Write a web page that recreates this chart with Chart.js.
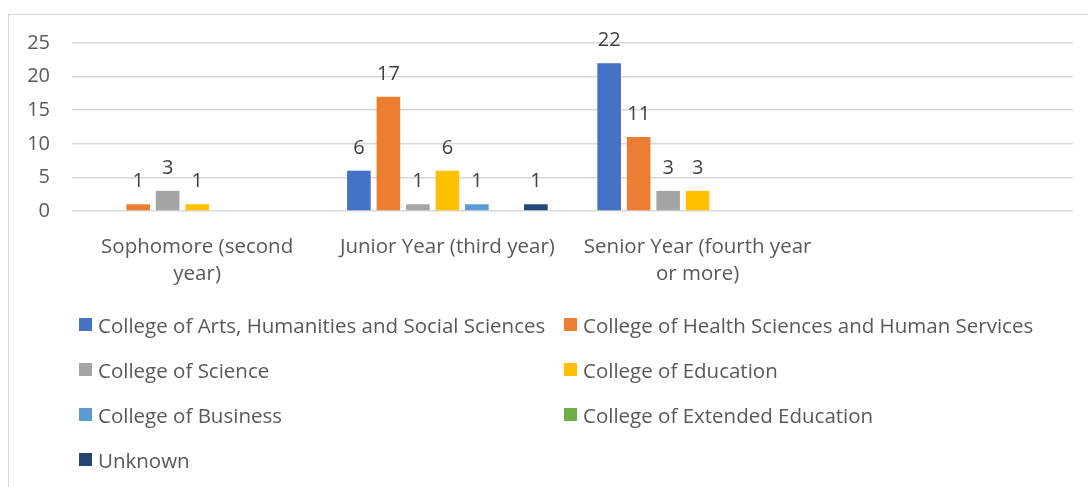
<!DOCTYPE html>
<html lang="en">
<head>
    <meta charset="UTF-8">
    <title>Students by college and year</title>
    <script src="https://cdn.jsdelivr.net/npm/chart.js"></script>
    <style>
        html, body {
            margin: 0;
            padding: 0;
            background: #fff;
            width: 1088px;
            height: 487px;
            overflow: hidden;
            font-family: "Open Sans", sans-serif;
        }
        .frame {
            position: absolute;
            left: 8px;
            top: 14px;
            width: 1100px;
            height: 500px;
            border: 1px solid #d9d9d9;
            box-sizing: border-box;
        }
        .chart-box {
            position: absolute;
            left: 0;
            top: 0;
            width: 1088px;
            height: 487px;
        }
        .legend {
            position: absolute;
            left: 79px;
            top: 302px;
            display: grid;
            grid-template-columns: 485px 485px;
            grid-auto-rows: 45px;
            font-size: 20.5px;
            color: #595959;
            white-space: nowrap;
        }
        .legend-item {
            display: flex;
            align-items: center;
        }
        .legend-box {
            width: 13px;
            height: 13px;
            margin-right: 6px;
        }
    </style>
</head>
<body>
    <div class="frame"></div>
    <div class="chart-box"><canvas id="chart" width="1088" height="487"></canvas></div>
    <div class="legend" id="legend"></div>
    <script>
        const yearLabels = [
            ["Sophomore (second", "year)"],
            ["Junior Year (third year)"],
            ["Senior Year (fourth year", "or more)"],
            ""
        ];

        const artsHumanities = [0, 6, 22, 0];
        const healthSciences = [1, 17, 11, 0];
        const science = [3, 1, 3, 0];
        const education = [1, 6, 3, 0];
        const business = [0, 1, 0, 0];
        const extendedEducation = [0, 0, 0, 0];
        const unknown = [0, 1, 0, 0];

        const yTicks = [0, 5, 10, 15, 20, 25];

        const datasets = [
            { label: "College of Arts, Humanities and Social Sciences", data: artsHumanities, backgroundColor: "#4472C4" },
            { label: "College of Health Sciences and Human Services", data: healthSciences, backgroundColor: "#ED7D31" },
            { label: "College of Science", data: science, backgroundColor: "#A5A5A5" },
            { label: "College of Education", data: education, backgroundColor: "#FFC000" },
            { label: "College of Business", data: business, backgroundColor: "#5B9BD5" },
            { label: "College of Extended Education", data: extendedEducation, backgroundColor: "#70AD47" },
            { label: "Unknown", data: unknown, backgroundColor: "#264478" }
        ];

        // value labels above each non-zero bar
        const valueLabels = {
            id: "valueLabels",
            afterDatasetsDraw(chart) {
                const ctx = chart.ctx;
                ctx.save();
                ctx.font = "20px 'Open Sans'";
                ctx.fillStyle = "#404040";
                ctx.textAlign = "center";
                ctx.textBaseline = "alphabetic";
                chart.data.datasets.forEach((ds, i) => {
                    const meta = chart.getDatasetMeta(i);
                    meta.data.forEach((bar, j) => {
                        const v = ds.data[j];
                        if (!v) return;
                        ctx.fillText(String(v), bar.x, bar.y - 17);
                    });
                });
                ctx.restore();
            }
        };

        const chart = new Chart(document.getElementById("chart"), {
            type: "bar",
            data: {
                labels: yearLabels,
                datasets: datasets.map(d => Object.assign({
                    barPercentage: 0.8,
                    categoryPercentage: 0.825,
                    borderWidth: 0
                }, d))
            },
            options: {
                responsive: false,
                animation: false,
                layout: {
                    padding: { left: 10, right: 15, top: 43, bottom: 0 }
                },
                plugins: {
                    legend: { display: false },
                    tooltip: { enabled: false }
                },
                scales: {
                    x: {
                        grid: { display: false },
                        border: { display: false },
                        ticks: {
                            color: "#595959",
                            font: { family: "Open Sans", size: 20.5, lineHeight: 1.32 },
                            padding: 15,
                            maxRotation: 0,
                            autoSkip: false
                        },
                        afterFit(scale) { scale.height = 276; }
                    },
                    y: {
                        min: 0,
                        max: 25,
                        afterBuildTicks(scale) {
                            scale.ticks = yTicks.map(v => ({ value: v }));
                        },
                        grid: { color: "#d9d9d9", lineWidth: 1.5, drawTicks: false },
                        border: { display: false },
                        ticks: {
                            color: "#595959",
                            font: { family: "Open Sans", size: 20 },
                            padding: 22
                        },
                        afterFit(scale) { scale.width = 62; }
                    }
                }
            },
            plugins: [valueLabels]
        });

        // two-column legend like the original
        const legendEl = document.getElementById("legend");
        datasets.forEach(d => {
            const item = document.createElement("div");
            item.className = "legend-item";
            const box = document.createElement("span");
            box.className = "legend-box";
            box.style.background = d.backgroundColor;
            const text = document.createElement("span");
            text.textContent = d.label;
            item.appendChild(box);
            item.appendChild(text);
            legendEl.appendChild(item);
        });
    </script>
</body>
</html>
